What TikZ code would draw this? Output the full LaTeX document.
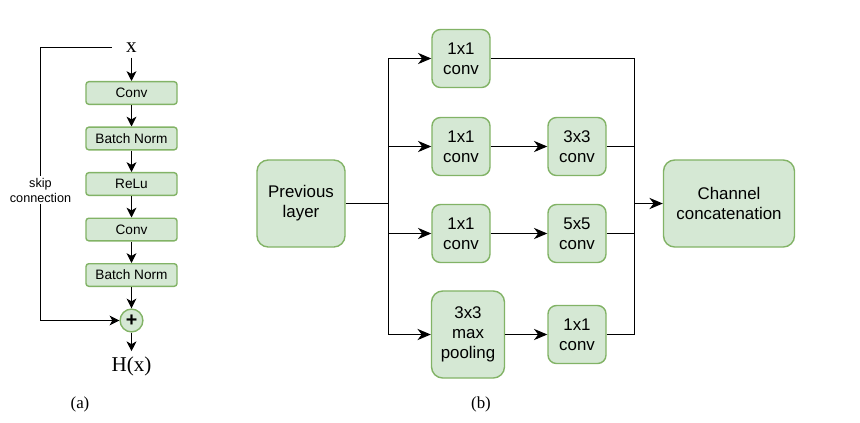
\documentclass[tikz,border=0pt]{standalone}
\usepackage{fontspec}
\setmainfont{Liberation Serif}
\setsansfont{Liberation Sans}
\usetikzlibrary{arrows.meta,shapes,positioning}

\definecolor{boxfill}{HTML}{D5E8D4}
\definecolor{boxline}{HTML}{82B366}

\tikzset{
  layer/.style={draw=boxline,fill=boxfill,line width=1pt,rounded corners=2pt,
    minimum width=2.275cm,minimum height=0.565cm,inner sep=0pt,
    font=\sffamily\fontsize{9.7}{11}\selectfont},
  block/.style={draw=boxline,fill=boxfill,line width=1pt,rounded corners=6pt,
    align=center,inner sep=0pt,minimum width=1.45cm,minimum height=1.45cm,
    font=\sffamily\fontsize{12}{14.2}\selectfont},
  link/.style={-{Stealth[length=7pt,width=7pt,inset=2pt]}},
  flow/.style={-{Stealth[length=9.5pt,width=8pt,inset=3pt]}},
  serif/.style={font=\rmfamily\fontsize{15}{17}\selectfont},
}

\begin{document}
\begin{tikzpicture}[x=0.025cm,y=-0.025cm,line width=0.75pt]
\useasboundingbox (0,0) rectangle (860,422);

% (a) residual block
\node[serif,inner xsep=0.35cm] (x) at (131.5,47.5) {x};
\node[layer] (conv1) at (131.5,93) {Conv};
\node[layer] (bn1) at (131.5,138.5) {Batch Norm};
\node[layer] (relu) at (131.5,184) {ReLu};
\node[layer] (conv2) at (131.5,229.5) {Conv};
\node[layer] (bn2) at (131.5,275) {Batch Norm};
\node[circle,draw=boxline,fill=boxfill,line width=1pt,minimum size=0.57cm,inner sep=0pt,
  font=\sffamily\bfseries\fontsize{14}{14}\selectfont] (sum) at (131.5,320.5) {+};
\node[serif] (hx) at (131.5,366) {H(x)};

\draw[link] (x) -- (conv1);
\draw[link] (conv1) -- (bn1);
\draw[link] (bn1) -- (relu);
\draw[link] (relu) -- (conv2);
\draw[link] (conv2) -- (bn2);
\draw[link] (bn2) -- (sum);
\draw[link] (sum) -- (hx);

\coordinate (skip) at (40.5,47.5);
\draw[link] (x.west) -- (skip) |- (sum.west);
\node[fill=white,align=center,inner sep=1pt,font=\sffamily\fontsize{9}{10.7}\selectfont]
  (skiplabel) at (40.5,190) {skip\\connection};

% (b) inception module
\node[block,minimum width=2.2cm,minimum height=2.175cm,rounded corners=8pt] (prev) at (301,203.5) {Previous\\layer};
\node[block] (r1a) at (461,58.5) {1x1\\conv};
\node[block] (r2a) at (461,146.5) {1x1\\conv};
\node[block] (r2b) at (577,146.5) {3x3\\conv};
\node[block] (r3a) at (461,233.5) {1x1\\conv};
\node[block] (r3b) at (577,233.5) {5x5\\conv};
\node[block,minimum width=1.825cm,minimum height=2.175cm,rounded corners=8pt] (pool) at (468,334.5) {3x3\\max\\pooling};
\node[block] (r4b) at (577,334.5) {1x1\\conv};
\node[block,minimum width=3.275cm,minimum height=2.175cm,rounded corners=8pt] (concat) at (729,203.5) {Channel\\concatenation};

\coordinate (split) at (388.5,203.5);
\coordinate (merge) at (634.5,203.5);

\draw (prev) -- (split);
\draw[flow] (split) |- (r1a);
\draw[flow] (split) |- (r2a);
\draw[flow] (split) |- (r3a);
\draw[flow] (split) |- (pool);
\draw[flow] (r2a) -- (r2b);
\draw[flow] (r3a) -- (r3b);
\draw[flow] (pool) -- (r4b);
\draw (r1a) -| (merge);
\draw (r2b) -| (merge);
\draw (r3b) -| (merge);
\draw (r4b) -| (merge);
\draw[flow] (merge) -- (concat);

% captions
\node[font=\rmfamily\fontsize{12}{14}\selectfont] (capa) at (80,404) {(a)};
\node[font=\rmfamily\fontsize{12}{14}\selectfont] (capb) at (481,404) {(b)};
\end{tikzpicture}
\end{document}
